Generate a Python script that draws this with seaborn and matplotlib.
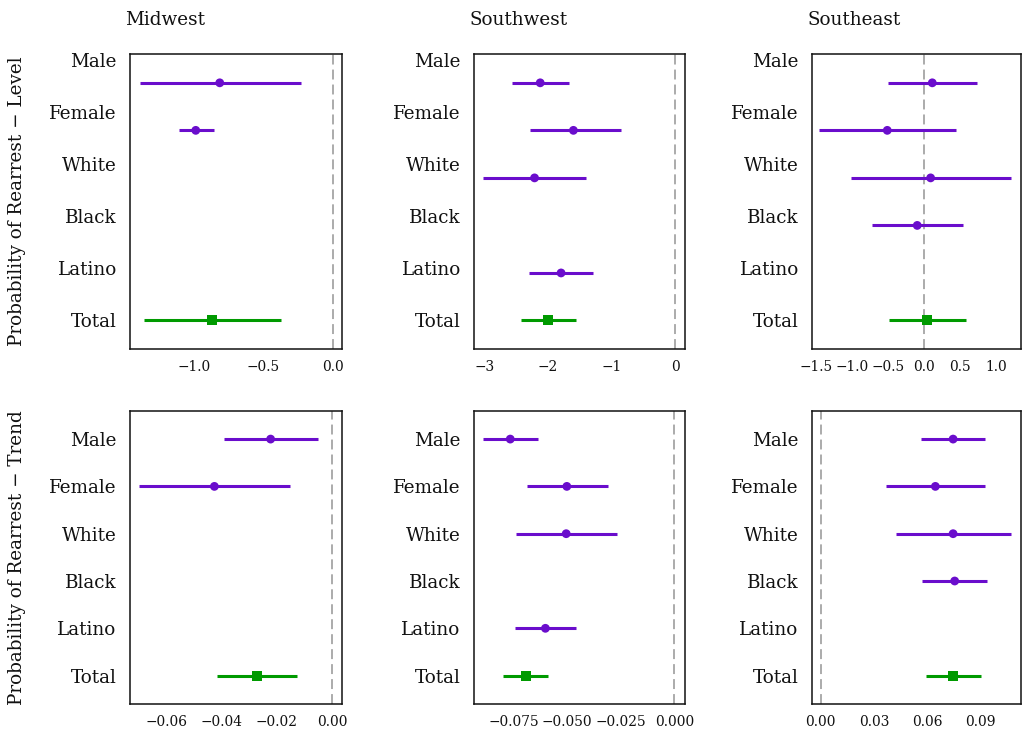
import numpy as np
import pandas as pd
import matplotlib
matplotlib.use("Agg")
import matplotlib.pyplot as plt
import matplotlib.transforms as mtransforms
import seaborn as sns

nan = np.nan
categories = ["Male", "Female", "White", "Black", "Latino", "Total"]
regions = ["Midwest", "Southwest", "Southeast"]
row_labels = ["Probability of Rearrest \u2212 Level", "Probability of Rearrest \u2212 Trend"]

# Level (row 1)
level_midwest_est = [-0.815, -0.988, nan, nan, nan, -0.873]
level_midwest_lo = [-1.393, -1.109, nan, nan, nan, -1.364]
level_midwest_hi = [-0.231, -0.858, nan, nan, nan, -0.371]

level_southwest_est = [-2.123, -1.601, -2.212, nan, -1.795, -1.998]
level_southwest_lo = [-2.572, -2.280, -3.020, nan, -2.300, -2.431]
level_southwest_hi = [-1.669, -0.845, -1.398, nan, -1.288, -1.560]

level_southeast_est = [0.109, -0.516, 0.086, -0.100, nan, 0.030]
level_southeast_lo = [-0.512, -1.466, -1.026, -0.725, nan, -0.493]
level_southeast_hi = [0.730, 0.433, 1.206, 0.530, nan, 0.572]

# Trend (row 2)
trend_midwest_est = [-0.0223, -0.0427, nan, nan, nan, -0.0272]
trend_midwest_lo = [-0.0393, -0.0699, nan, nan, nan, -0.0417]
trend_midwest_hi = [-0.0052, -0.0152, nan, nan, nan, -0.0128]

trend_southwest_est = [-0.0766, -0.0502, -0.0505, nan, -0.0602, -0.0692]
trend_southwest_lo = [-0.0891, -0.0689, -0.0738, nan, -0.0744, -0.0798]
trend_southwest_hi = [-0.0638, -0.0311, -0.0270, nan, -0.0459, -0.0588]

trend_southeast_est = [0.0746, 0.0646, 0.0746, 0.0755, nan, 0.0748]
trend_southeast_lo = [0.0566, 0.0368, 0.0423, 0.0573, nan, 0.0596]
trend_southeast_hi = [0.0926, 0.0924, 0.1075, 0.0936, nan, 0.0904]

xticks = {
    (0, 0): [-1.0, -0.5, 0.0], (0, 1): [-3, -2, -1, 0], (0, 2): [-1.5, -1.0, -0.5, 0.0, 0.5, 1.0],
    (1, 0): [-0.06, -0.04, -0.02, 0.00], (1, 1): [-0.075, -0.050, -0.025, 0.000], (1, 2): [0.00, 0.03, 0.06, 0.09],
}
xfmt = {(0, 0): "{:.1f}", (0, 1): "{:.0f}", (0, 2): "{:.1f}",
        (1, 0): "{:.2f}", (1, 1): "{:.3f}", (1, 2): "{:.2f}"}
xlims = {(0, 0): (-1.466, 0.067), (0, 1): (-3.172, 0.146), (0, 2): (-1.568, 1.341),
         (1, 0): (-0.0735, 0.0036), (1, 1): (-0.09375, 0.0047), (1, 2): (-0.00526, 0.1129)}

panels = {
    (0, 0): (level_midwest_est, level_midwest_lo, level_midwest_hi),
    (0, 1): (level_southwest_est, level_southwest_lo, level_southwest_hi),
    (0, 2): (level_southeast_est, level_southeast_lo, level_southeast_hi),
    (1, 0): (trend_midwest_est, trend_midwest_lo, trend_midwest_hi),
    (1, 1): (trend_southwest_est, trend_southwest_lo, trend_southwest_hi),
    (1, 2): (trend_southeast_est, trend_southeast_lo, trend_southeast_hi),
}

sns.set_theme(style="white")
plt.rcParams["font.family"] = ["DejaVu Serif", "DejaVu Sans"]

PURPLE = "#6a0dcc"
GREEN = "#009a00"

W, H = 1022, 735
fig = plt.figure(figsize=(W / 100, H / 100), dpi=100)

col_px = [(129.5, 212.5), (473.5, 211.0), (811.5, 209.5)]
row_px = [(54.3, 349.0), (410.7, 704.0)]

positions = [6, 5, 4, 3, 2, 1]
label_pos_top = [6.47, 5.38, 4.30, 3.19, 2.10, 1.0]

for (r, c), (est, lo, hi) in panels.items():
    x0, w = col_px[c]
    ytop, ybot = row_px[r]
    ax = fig.add_axes([x0 / W, 1 - ybot / H, w / W, (ybot - ytop) / H])
    df = pd.DataFrame({"cat": categories, "pos": positions, "est": est, "lo": lo, "hi": hi})
    df["kind"] = np.where(df["cat"] == "Total", "total", "group")
    df = df.dropna()
    ax.axvline(0, color="#959595", lw=1.1, dashes=(6.5, 3.3), zorder=1)
    for kind, col in (("group", PURPLE), ("total", GREEN)):
        sub = df[df["kind"] == kind]
        ax.hlines(sub["pos"], sub["lo"], sub["hi"], color=col, lw=2.2, zorder=2)
    sns.scatterplot(data=df, x="est", y="pos", hue="kind", style="kind",
                    palette={"group": PURPLE, "total": GREEN},
                    markers={"group": "o", "total": "s"},
                    size="kind", sizes={"group": 40, "total": 52},
                    edgecolor="none", linewidth=0, legend=False, ax=ax, zorder=3)
    ax.set_xlim(*xlims[(r, c)])
    ax.set_ylim(0.4, 6.6)
    ax.set_xlabel("")
    ax.set_ylabel("")
    ax.set_xticks(xticks[(r, c)])
    ax.set_xticklabels([xfmt[(r, c)].format(v).replace("-", "\u2212") for v in xticks[(r, c)]])
    ax.set_yticks(positions)
    for s in ax.spines.values():
        s.set_color("#111111")
        s.set_linewidth(1.1)
    ax.tick_params(axis="x", length=3, width=0.9, color="#333333", pad=5, labelsize=9.9, labelcolor="#111111")
    ax.tick_params(axis="y", length=3, width=0.9, color="#333333", pad=6.5, labelsize=13.2, labelcolor="#111111")
    if r == 0:
        ax.set_yticklabels([""] * 6)
        trans = mtransforms.blended_transform_factory(ax.transAxes, ax.transData) + \
            mtransforms.ScaledTranslation(-12.5 / 100, 0, fig.dpi_scale_trans)
        for lab, yp in zip(categories, label_pos_top):
            ax.text(0, yp, lab, transform=trans, ha="right", va="center_baseline",
                    fontsize=13.2, color="#111111")
        ax.set_title(regions[c], loc="left", fontsize=13.2, pad=21, color="#111111",
                     x=-4 / w)
    else:
        ax.set_yticklabels(categories)

for r, lab in enumerate(row_labels):
    ytop, ybot = row_px[r]
    fig.text(17 / W, 1 - (ytop + ybot) / 2 / H, lab, rotation=90, ha="center", va="center",
             fontsize=13.2, color="#111111")

fig.savefig("out.png", dpi=100)
